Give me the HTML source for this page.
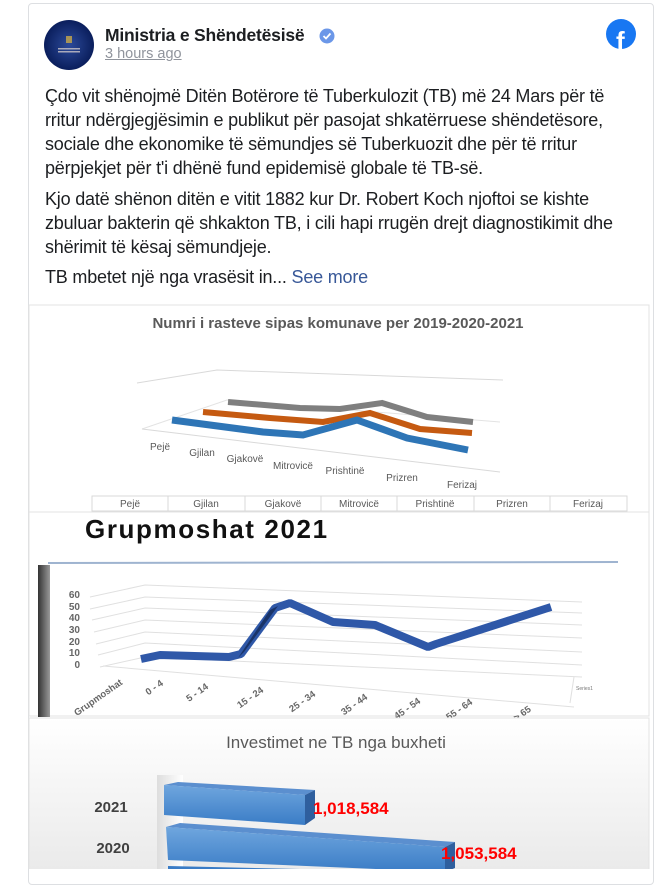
<!DOCTYPE html>
<html><head><meta charset="utf-8"><style>
body{margin:0;width:670px;height:869px;overflow:hidden;background:#fff;font-family:"Liberation Sans",Arial,sans-serif;position:relative}
.card{position:absolute;left:28px;top:3px;width:624px;height:880px;border:1px solid #dddfe2;border-radius:4px;background:#fff}
.t{position:absolute;left:45px;font-size:18px;color:#1c1e21;line-height:24px;width:580px;letter-spacing:-0.2px}
</style></head><body>
<div class="card"></div>
<svg style="position:absolute;left:0;top:0" width="670" height="869">
<defs>
<radialGradient id="av" cx="50%" cy="50%" r="50%"><stop offset="0" stop-color="#2c4a9a"/><stop offset="1" stop-color="#0a1e5c"/></radialGradient>
<linearGradient id="bg3" x1="0" y1="0" x2="0" y2="1"><stop offset="0" stop-color="#fff"/><stop offset="1" stop-color="#e9e9e9"/></linearGradient>
<linearGradient id="bar" x1="0" y1="0" x2="0" y2="1"><stop offset="0" stop-color="#6fa6de"/><stop offset="1" stop-color="#3a7cc6"/></linearGradient>
<linearGradient id="shd" x1="0" y1="0" x2="1" y2="0"><stop offset="0" stop-color="#333"/><stop offset="1" stop-color="#999"/></linearGradient>
<linearGradient id="wall" x1="0" y1="0" x2="1" y2="0"><stop offset="0" stop-color="#ddd"/><stop offset="1" stop-color="#fff"/></linearGradient>
</defs>
<circle cx="69" cy="45" r="25" fill="url(#av)"/>
<rect x="66" y="36" width="6" height="7" fill="#c9a94a" opacity=".8"/>
<rect x="58" y="48" width="22" height="1.5" fill="#aab"/><rect x="58" y="51" width="22" height="1.5" fill="#aab"/>
<circle cx="327" cy="36" r="7.5" fill="#6b97e8"/><path d="M323.5 36 l2.5 2.5 l4.5 -5" stroke="#fff" stroke-width="1.8" fill="none"/>
<circle cx="621" cy="34" r="15" fill="#1877f2"/>
<text x="616" y="50" font-family="Liberation Sans" font-weight="bold" font-size="26" fill="#fff">f</text>

<!-- chart 1 -->
<rect x="29" y="305" width="620" height="207" fill="#fff" stroke="#e3e3e3"/>
<text x="338" y="328" text-anchor="middle" font-size="15" font-weight="bold" fill="#595959">Numri i rasteve sipas komunave per 2019-2020-2021</text>
<polyline points="137,383 217,370 503,380" fill="none" stroke="#d9d9d9"/>
<polyline points="142,429 227,400 500,422" fill="none" stroke="#e3e3e3"/>
<line x1="142" y1="429" x2="500" y2="472" stroke="#d9d9d9"/>
<polyline points="228,402 300,408 340,409 382,403 427,417 473,422" fill="none" stroke="#7f7f7f" stroke-width="6"/>
<polyline points="203,412 270,418 323,422 370,413 420,429 472,433" fill="none" stroke="#c55a11" stroke-width="6"/>
<polyline points="172,420 263,432 303,435 357,420 407,438 468,450" fill="none" stroke="#2e75b6" stroke-width="7"/>
<g font-size="10" fill="#595959" text-anchor="middle">
<text x="160" y="450">Pejë</text><text x="202" y="456">Gjilan</text><text x="245" y="462">Gjakovë</text><text x="293" y="469">Mitrovicë</text><text x="345" y="474">Prishtinë</text><text x="402" y="481">Prizren</text><text x="462" y="488">Ferizaj</text>
</g>
<rect x="92" y="496" width="535" height="15" fill="none" stroke="#d9d9d9"/>
<g stroke="#d9d9d9"><line x1="168" y1="496" x2="168" y2="511"/><line x1="245" y1="496" x2="245" y2="511"/><line x1="321" y1="496" x2="321" y2="511"/><line x1="397" y1="496" x2="397" y2="511"/><line x1="474" y1="496" x2="474" y2="511"/><line x1="550" y1="496" x2="550" y2="511"/></g>
<g font-size="10" fill="#595959" text-anchor="middle">
<text x="130" y="507">Pejë</text><text x="206" y="507">Gjilan</text><text x="283" y="507">Gjakovë</text><text x="359" y="507">Mitrovicë</text><text x="435" y="507">Prishtinë</text><text x="512" y="507">Prizren</text><text x="588" y="507">Ferizaj</text>
</g>

<!-- chart 2 -->
<rect x="29" y="512" width="620" height="204" fill="#fff" stroke="#e3e3e3"/>
<text x="85" y="538" font-size="26" font-weight="bold" fill="#111" letter-spacing="1.6">Grupmoshat 2021</text>
<rect x="38" y="565" width="12" height="152" fill="url(#shd)"/>
<line x1="48" y1="563" x2="618" y2="562" stroke="#9fb4d0" stroke-width="2"/>
<g stroke="#e0e0e0" fill="none">
<polyline points="90,597 145,585 582,602"/><polyline points="90,609 145,597 582,613"/><polyline points="92,620 145,608 582,625"/><polyline points="94,632 145,620 582,638"/><polyline points="96,644 145,632 582,652"/><polyline points="98,655 145,643 582,665"/><polyline points="100,667 145,657 582,677"/>
<line x1="103" y1="666" x2="574" y2="707"/><line x1="574" y1="677" x2="570" y2="703"/>
</g>
<g font-size="10" font-weight="bold" fill="#666" text-anchor="end">
<text x="80" y="598">60</text><text x="80" y="610">50</text><text x="80" y="621">40</text><text x="80" y="633">30</text><text x="80" y="645">20</text><text x="80" y="656">10</text><text x="80" y="668">0</text>
</g>
<polyline points="141,659 160,655 229,657 241,654 275,608 290,603 333,622 375,625 428,647 436,644 551,607" fill="none" stroke="#2f58a8" stroke-width="8" stroke-linejoin="bevel"/>
<polygon points="238,658 244,652 278,606 270,610" fill="#1a3468"/>
<g font-size="9.5" font-weight="bold" fill="#666" text-anchor="middle">
<text transform="translate(100,700) rotate(-35)">Grupmoshat</text>
<text transform="translate(156,690) rotate(-35)">0 - 4</text>
<text transform="translate(199,695) rotate(-35)">5 - 14</text>
<text transform="translate(252,700) rotate(-35)">15 - 24</text>
<text transform="translate(304,704) rotate(-35)">25 - 34</text>
<text transform="translate(356,707) rotate(-35)">35 - 44</text>
<text transform="translate(409,711) rotate(-35)">45 - 54</text>
<text transform="translate(461,712) rotate(-35)">55 - 64</text>
<text transform="translate(524,716) rotate(-35)">&gt; 65</text>
</g>
<text x="576" y="690" font-size="5" fill="#777">Series1</text>

<!-- chart 3 -->
<rect x="29" y="718" width="620" height="160" fill="url(#bg3)" stroke="#e3e3e3"/>
<text x="336" y="748" text-anchor="middle" font-size="17" fill="#595959">Investimet ne TB nga buxheti</text>
<rect x="157" y="775" width="26" height="100" fill="url(#wall)"/>
<polygon points="164,785 178,782 315,790 305,795" fill="#5b8fcf"/>
<polygon points="305,795 315,790 315,818 305,825" fill="#2f5f9e"/>
<polygon points="164,785 305,795 305,825 164,815" fill="url(#bar)"/>
<polygon points="166,827 180,823 455,842 445,847" fill="#5b8fcf"/>
<polygon points="445,847 455,842 455,868 445,872" fill="#2f5f9e"/>
<polygon points="166,827 445,847 445,872 168,860" fill="url(#bar)"/>
<polygon points="168,866 300,869 168,869" fill="#3a7cc6"/>
<g font-size="15" font-weight="bold" fill="#404040" text-anchor="middle"><text x="111" y="812">2021</text><text x="113" y="853">2020</text></g>
<g font-size="17" font-weight="bold" fill="#f00"><text x="313" y="814">1,018,584</text><text x="441" y="859">1,053,584</text></g>
</svg>
<div style="position:absolute;left:105px;top:25px;font-size:17.5px;font-weight:bold;color:#1c1e21;letter-spacing:-0.2px">Ministria e Shëndetësisë</div>
<div style="position:absolute;left:105px;top:46px;font-size:14.5px;color:#90949c;text-decoration:underline">3 hours ago</div>
<div class="t" style="top:84px">Çdo vit shënojmë Ditën Botërore të Tuberkulozit (TB) më 24 Mars për të rritur ndërgjegjësimin e publikut për pasojat shkatërruese shëndetësore, sociale dhe ekonomike të sëmundjes së Tuberkuozit dhe për të rritur përpjekjet për t'i dhënë fund epidemisë globale të TB-së.</div>
<div class="t" style="top:187px">Kjo datë shënon ditën e vitit 1882 kur Dr. Robert Koch njoftoi se kishte zbuluar bakterin që shkakton TB, i cili hapi rrugën drejt diagnostikimit dhe shërimit të kësaj sëmundjeje.</div>
<div class="t" style="top:265px">TB mbetet një nga vrasësit in... <span style="color:#385898">See more</span></div>
</body></html>
